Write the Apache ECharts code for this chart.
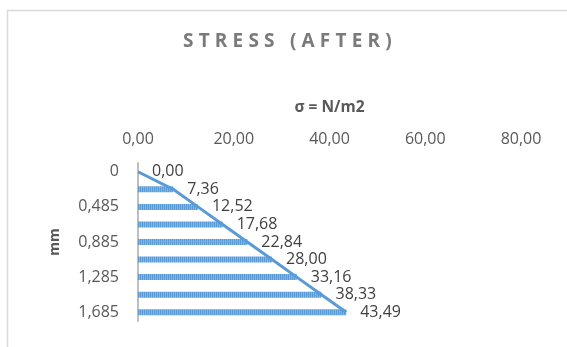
<!DOCTYPE html>
<html>
<head>
<meta charset="utf-8">
<script src="https://cdn.jsdelivr.net/npm/echarts@6/dist/echarts.min.js"></script>
<style>
  html, body { margin: 0; padding: 0; background: #fff; }
  #chart { width: 567px; height: 347px; }
</style>
</head>
<body>
<div id="chart"></div>
<script>
// ---- data ----
const titleText = 'STRESS (AFTER)';
const xAxisName = 'σ = N/m2';
const yAxisName = 'mm';
const depths = ['0', '0,285', '0,485', '0,685', '0,885', '1,085', '1,285', '1,485', '1,685'];
const stress = [0.00, 7.36, 12.52, 17.68, 22.84, 28.00, 33.16, 38.33, 43.49];
const xTicks = [0, 20, 40, 60, 80];

const FONT = '"Open Sans", "Noto Sans", sans-serif';
const fmt = v => Number(v).toFixed(2).replace('.', ',');

// Title is drawn with wide letter spacing (canvas letterSpacing).
const TITLE_SPACING = '5.2px';
const proto = CanvasRenderingContext2D.prototype;
const baseFillText = proto.fillText;
proto.fillText = function (t, x, y, w) {
  const call = () => (w === undefined ? baseFillText.call(this, t, x, y) : baseFillText.call(this, t, x, y, w));
  if (t === titleText && 'letterSpacing' in this) {
    const prev = this.letterSpacing;
    this.letterSpacing = TITLE_SPACING;
    const r = call();
    this.letterSpacing = prev;
    return r;
  }
  return call();
};

// Striped fill for the bars
const stripe = document.createElement('canvas');
stripe.width = 2;
stripe.height = 6;
const sctx = stripe.getContext('2d');
sctx.fillStyle = '#5b9bd5';
sctx.fillRect(0, 0, 2, 6);
sctx.fillStyle = '#86b4e2';
sctx.fillRect(1, 0, 1, 6);

const chart = echarts.init(document.getElementById('chart'), null, { renderer: 'canvas' });

chart.setOption({
  animation: false,
  backgroundColor: '#ffffff',
  textStyle: { fontFamily: FONT },
  title: {
    text: titleText,
    left: 183,
    top: 32,
    padding: 0,
    textStyle: { fontFamily: FONT, fontSize: 19, fontWeight: 'bold', color: '#7a7a7a' }
  },
  graphic: [{
    type: 'rect',
    silent: true,
    z: -1,
    shape: { x: 7.5, y: 10.5, width: 700, height: 500 },
    style: { fill: 'none', stroke: '#d9d9d9', lineWidth: 1.5 }
  }],
  grid: { left: 138, right: 46, top: 163, bottom: 26, containLabel: false },
  xAxis: {
    type: 'value',
    position: 'top',
    min: xTicks[0],
    max: xTicks[xTicks.length - 1],
    interval: xTicks[1] - xTicks[0],
    name: xAxisName,
    nameLocation: 'middle',
    nameGap: 47,
    nameTextStyle: { fontFamily: FONT, fontSize: 15.5, fontWeight: 'bold', color: '#595959' },
    axisLine: { show: false },
    axisTick: { show: false },
    splitLine: { show: false },
    axisLabel: { formatter: v => fmt(v), color: '#595959', fontSize: 16, margin: 16, fontFamily: FONT }
  },
  yAxis: {
    type: 'category',
    data: depths,
    inverse: true,
    name: yAxisName,
    nameLocation: 'middle',
    nameGap: 76,
    nameTextStyle: { fontFamily: FONT, fontSize: 14, fontWeight: 'bold', color: '#595959' },
    axisLine: { show: true, lineStyle: { color: '#bfbfbf', width: 2 } },
    axisTick: { show: false },
    splitLine: { show: false },
    axisLabel: { interval: 1, color: '#595959', fontSize: 16, margin: 19, fontFamily: FONT }
  },
  series: [
    {
      type: 'bar',
      data: stress,
      barWidth: 6,
      itemStyle: { color: { image: stripe, repeat: 'repeat' } },
      label: {
        show: true,
        position: 'right',
        distance: 14,
        formatter: p => fmt(p.value),
        color: '#404040',
        fontSize: 16,
        fontFamily: FONT
      },
      z: 2
    },
    {
      type: 'line',
      data: stress,
      symbol: 'none',
      lineStyle: { color: '#5b9bd5', width: 3 },
      z: 3
    }
  ]
});
</script>
</body>
</html>
